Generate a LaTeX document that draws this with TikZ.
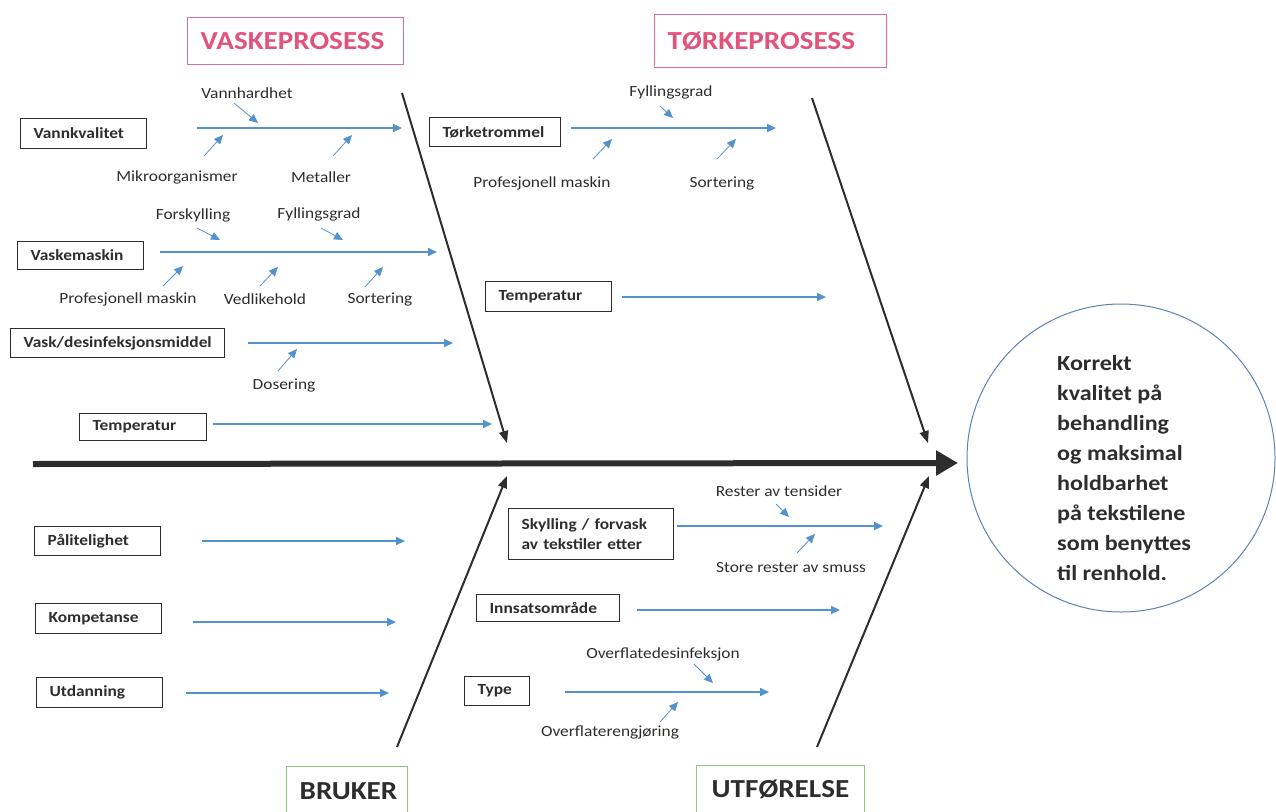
\documentclass[tikz,border=0pt]{standalone}
\usepackage{fontspec}
\setmainfont{Carlito}[FakeStretch=1.12]
\usetikzlibrary{arrows.meta}
\definecolor{bl}{RGB}{84,146,205}
\definecolor{ink}{RGB}{45,45,45}
\definecolor{pinkt}{RGB}{226,82,122}
\definecolor{pinkb}{RGB}{226,110,140}
\definecolor{greenb}{RGB}{140,200,120}
\definecolor{circc}{RGB}{90,130,180}
\begin{document}
\begin{tikzpicture}[x=1pt,y=-1pt,
  box/.style={draw=ink, line width=1.2pt, text=ink, font=\bfseries\fontsize{15.5}{20}\selectfont,
    inner xsep=13pt, inner ysep=0pt, align=left, anchor=north west},
  title/.style={line width=1.4pt, font=\bfseries\fontsize{26}{28}\selectfont,
    inner xsep=13pt, inner ysep=0pt, align=left, anchor=north west},
  sub/.style={text=ink, font=\fontsize{15.5}{17}\selectfont, inner sep=0pt},
  blarrow/.style={draw=bl, line width=2pt, -{Triangle[length=9pt,width=8pt]}},
  subarrow/.style={draw=bl, line width=0.8pt, -{Triangle[length=9pt,width=8pt]}},
  bone/.style={draw=ink, line width=2pt, -{Triangle[length=12pt,width=9pt]}}
]
\useasboundingbox (0,0) rectangle (1276,811);

% title boxes
\node[title, draw=pinkb, text=pinkt, text width=190pt, minimum height=47pt] (tvask) at (187,17) {VASKEPROSESS};
\node[title, draw=pinkb, text=pinkt, text width=206pt, minimum height=53pt] (ttork) at (654,14) {TØRKEPROSESS};
\node[title, draw=greenb, text=ink, text width=95pt, minimum height=48pt] (tbruk) at (286,766) {BRUKER};
\node[title, draw=greenb, text=ink, inner xsep=15pt, text width=138pt, minimum height=48pt] (tutf) at (696,765) {UTFØRELSE};

% main spine
\coordinate (spA) at (33,464);
\coordinate (spB) at (958,463);
\draw[draw=ink, line width=6pt, -{Triangle[length=22pt,width=24pt]}] (spA) -- (spB);

% diagonal bones
\coordinate (bvA) at (402,93);   \coordinate (bvB) at (507,443);
\coordinate (btA) at (812,98);   \coordinate (btB) at (928,443);
\coordinate (bbA) at (397,747);  \coordinate (bbB) at (507,476);
\coordinate (buA) at (817,747);  \coordinate (buB) at (929,476);
\draw[bone] (bvA) -- (bvB);
\draw[bone] (btA) -- (btB);
\draw[bone] (bbA) -- (bbB);
\draw[bone] (buA) -- (buB);

% goal circle
\node[circle, draw=circc, line width=1pt, minimum size=308pt, inner sep=0pt] (goal) at (1121,458) {};
\node[anchor=north west, inner sep=0pt, text=ink, align=left,
  font=\bfseries\fontsize{21.5}{30}\selectfont] (goaltext) at (1057,355)
  {Korrekt\\kvalitet på\\behandling\\og maksimal\\holdbarhet\\på tekstilene\\som benyttes\\til renhold.};

% ---------- VASKEPROSESS ----------
\node[box, text width=100pt, minimum height=30pt] (vk) at (20,118) {Vannkvalitet};
\coordinate (vkA) at (197,128); \coordinate (vkB) at (402,128);
\draw[blarrow] (vkA) -- (vkB);
\node[sub] (vk1) at (247,93) {Vannhardhet};
\node[sub] (vk2) at (177,177) {Mikroorganismer};
\node[sub] (vk3) at (321,177) {Metaller};
\coordinate (vk1a) at (234,103); \coordinate (vk1b) at (258,123);
\coordinate (vk2a) at (204,156); \coordinate (vk2b) at (223,135);
\coordinate (vk3a) at (333,156); \coordinate (vk3b) at (352,135);
\draw[subarrow] (vk1a) -- (vk1b);
\draw[subarrow] (vk2a) -- (vk2b);
\draw[subarrow] (vk3a) -- (vk3b);

\node[box, text width=100pt, minimum height=28pt] (vm) at (17,241) {Vaskemaskin};
\coordinate (vmA) at (160,252); \coordinate (vmB) at (437,252);
\draw[blarrow] (vmA) -- (vmB);
\node[sub] (vm1) at (193,215) {Forskylling};
\node[sub] (vm2) at (319,214) {Fyllingsgrad};
\node[sub] (vm3) at (128,299) {Profesjonell maskin};
\node[sub] (vm4) at (265,299) {Vedlikehold};
\node[sub] (vm5) at (380,299) {Sortering};
\coordinate (vm1a) at (197,228); \coordinate (vm1b) at (220,240);
\coordinate (vm2a) at (321,228); \coordinate (vm2b) at (343,240);
\coordinate (vm3a) at (163,286); \coordinate (vm3b) at (183,266);
\coordinate (vm4a) at (260,286); \coordinate (vm4b) at (278,267);
\coordinate (vm5a) at (365,287); \coordinate (vm5b) at (383,267);
\draw[subarrow] (vm1a) -- (vm1b);
\draw[subarrow] (vm2a) -- (vm2b);
\draw[subarrow] (vm3a) -- (vm3b);
\draw[subarrow] (vm4a) -- (vm4b);
\draw[subarrow] (vm5a) -- (vm5b);

\node[box, text width=188pt, minimum height=29pt] (vd) at (10,328) {Vask/desinfeksjonsmiddel};
\coordinate (vdA) at (248,343); \coordinate (vdB) at (453,343);
\draw[blarrow] (vdA) -- (vdB);
\node[sub] (vd1) at (284,385) {Dosering};
\coordinate (vd1a) at (278,371); \coordinate (vd1b) at (297,349);
\draw[subarrow] (vd1a) -- (vd1b);

\node[box, text width=101pt, minimum height=27pt] (vt) at (79,413) {Temperatur};
\coordinate (vtA) at (213,424); \coordinate (vtB) at (492,424);
\draw[blarrow] (vtA) -- (vtB);

% ---------- TØRKEPROSESS ----------
\node[box, text width=105pt, minimum height=29pt] (tt) at (429,117) {Tørketrommel};
\coordinate (ttA) at (571,128); \coordinate (ttB) at (776,128);
\draw[blarrow] (ttA) -- (ttB);
\node[sub] (tt1) at (671,92) {Fyllingsgrad};
\node[sub] (tt2) at (542,183) {Profesjonell maskin};
\node[sub] (tt3) at (722,183) {Sortering};
\coordinate (tt1a) at (660,106); \coordinate (tt1b) at (673,118);
\coordinate (tt2a) at (593,159); \coordinate (tt2b) at (612,139);
\coordinate (tt3a) at (717,159); \coordinate (tt3b) at (736,139);
\draw[subarrow] (tt1a) -- (tt1b);
\draw[subarrow] (tt2a) -- (tt2b);
\draw[subarrow] (tt3a) -- (tt3b);

\node[box, text width=100pt, minimum height=30pt] (tp) at (485,281) {Temperatur};
\coordinate (tpA) at (622,297); \coordinate (tpB) at (826,297);
\draw[blarrow] (tpA) -- (tpB);

% ---------- BRUKER ----------
\node[box, text width=100pt, minimum height=29pt] (pa) at (34,526) {Pålitelighet};
\coordinate (paA) at (202,541); \coordinate (paB) at (405,541);
\draw[blarrow] (paA) -- (paB);
\node[box, text width=100pt, minimum height=30pt] (ko) at (35,603) {Kompetanse};
\coordinate (koA) at (193,622); \coordinate (koB) at (396,622);
\draw[blarrow] (koA) -- (koB);
\node[box, text width=100pt, minimum height=30pt] (ud) at (36,677) {Utdanning};
\coordinate (udA) at (186,693); \coordinate (udB) at (389,693);
\draw[blarrow] (udA) -- (udB);

% ---------- UTFØRELSE ----------
\node[box, text width=139pt, minimum height=51pt] (sk) at (508,508) {Skylling / forvask\\av tekstiler etter};
\coordinate (skA) at (677,526); \coordinate (skB) at (883,526);
\draw[blarrow] (skA) -- (skB);
\node[sub] (sk1) at (779,491) {Rester av tensider};
\node[sub] (sk2) at (791,568) {Store rester av smuss};
\coordinate (sk1a) at (776,504); \coordinate (sk1b) at (789,517);
\coordinate (sk2a) at (797,553); \coordinate (sk2b) at (815,534);
\draw[subarrow] (sk1a) -- (sk1b);
\draw[subarrow] (sk2a) -- (sk2b);

\node[box, text width=117pt, minimum height=27pt] (in) at (476,594) {Innsatsområde};
\coordinate (inA) at (637,610); \coordinate (inB) at (840,610);
\draw[blarrow] (inA) -- (inB);

\node[box, text width=39pt, minimum height=29pt] (ty) at (464,676) {Type};
\coordinate (tyA) at (565,692); \coordinate (tyB) at (769,692);
\draw[blarrow] (tyA) -- (tyB);
\node[sub] (ty1) at (663,654) {Overflatedesinfeksjon};
\node[sub] (ty2) at (610,732) {Overflaterengjøring};
\coordinate (ty1a) at (694,664); \coordinate (ty1b) at (713,683);
\coordinate (ty2a) at (660,722); \coordinate (ty2b) at (678,702);
\draw[subarrow] (ty1a) -- (ty1b);
\draw[subarrow] (ty2a) -- (ty2b);
\end{tikzpicture}
\end{document}
